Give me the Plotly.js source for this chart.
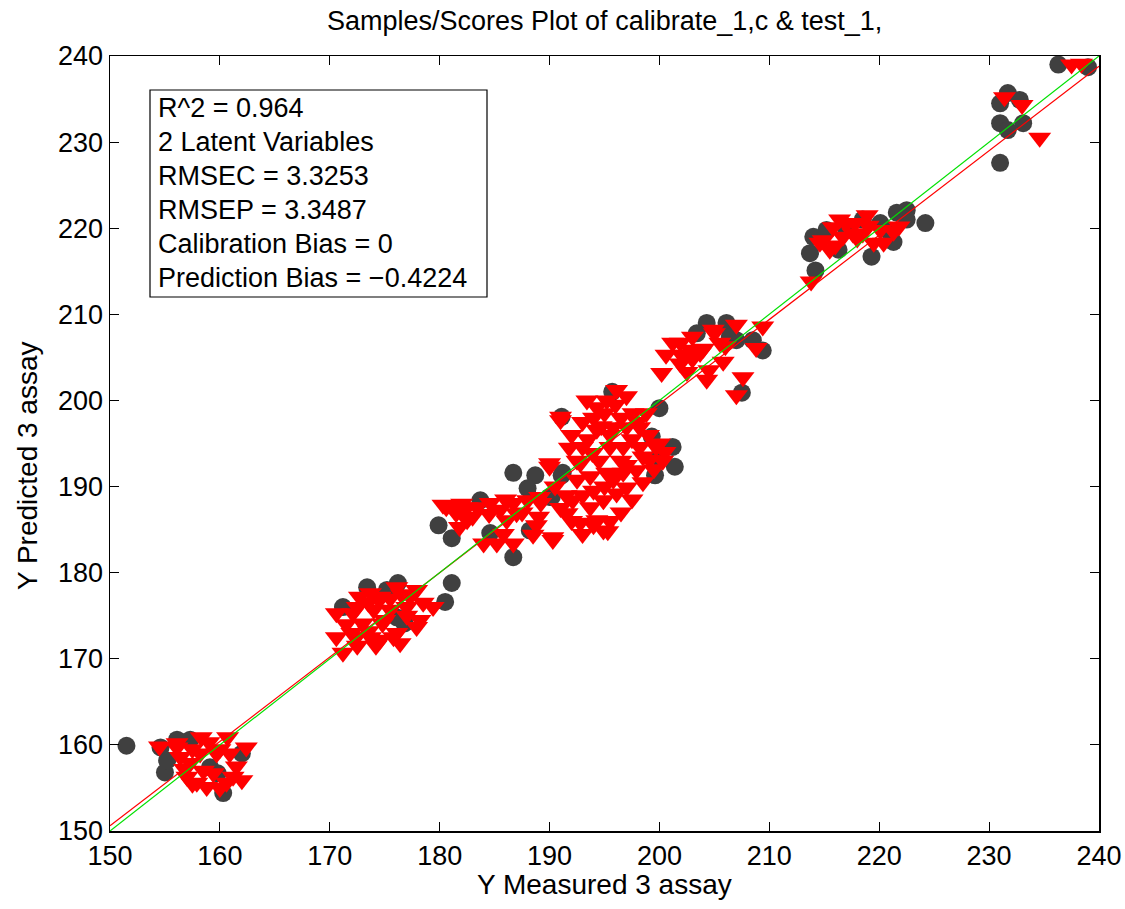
<!DOCTYPE html>
<html><head><meta charset="utf-8">
<script src="https://cdn.plot.ly/plotly-3.0.1.min.js"></script>
<style>html,body{margin:0;padding:0;background:#fff}#chart{width:1125px;height:909px}</style>
</head><body><div id="chart"></div>
<script>
// Calibration samples (dark circles)
const calX = [151.5,156.1,154.6,155.0,155.2,157.3,162.0,160.3,159.1,159.8,
  173.4,176.2,181.1,180.5,171.2,175.2,176.8,176.1,
  179.9,181.1,186.7,188.7,188.0,183.7,190.2,188.2,186.7,184.6,191.2,191.1,
  200.0,201.2,201.4,199.6,199.3,199.9,190.0,191.1,195.7,
  204.3,206.1,203.4,207.0,208.5,209.4,207.5,206.4,
  214.0,213.7,214.2,215.2,216.3,217.0,218.5,219.3,220.1,221.3,221.6,222.5,222.5,224.2,220.7,
  236.3,239.0,231.0,231.7,232.8,231.0,231.7,233.1,231.0];
const calY = [159.9,160.6,159.7,156.8,158.2,160.6,159.0,154.4,157.4,156.7,
  178.3,178.8,178.8,176.6,176.0,178.0,174.1,174.8,
  185.5,184.0,191.6,191.3,189.8,188.4,188.8,184.9,181.8,184.6,191.6,198.1,
  199.1,194.6,192.3,191.3,195.8,193.4,188.8,191.3,201.0,
  209.0,209.0,207.8,207.0,207.0,205.8,200.9,207.4,
  219.0,217.1,215.1,219.8,217.5,219.8,221.0,216.7,220.6,218.4,221.8,222.1,221.0,220.6,219.8,
  239.0,238.7,234.5,235.7,234.9,232.2,231.4,232.2,227.6];
// Test samples (red down-triangles)
const testX = [156.1,158.3,160.7,162.4,156.4,158.2,157.0,158.8,157.9,160.6,162.0,161.2,159.7,160.9,156.1,159.4,157.3,154.5,
  157.5,159.0,160.0,158.5,160.0,161.5,157.5,156.8,
  170.6,170.6,171.2,172.4,173.7,174.6,176.4,176.1,177.9,178.2,179.4,177.3,176.1,174.6,172.7,172.1,174.0,175.5,173.0,174.8,177.0,173.7,177.9,
  171.5,172.5,173.5,174.5,175.5,176.5,177.0,175.0,173.5,172.0,175.8,174.2,178.5,172.5,
  180.6,182.1,181.8,180.3,181.5,182.5,183.4,184.6,185.5,186.7,188.0,189.2,187.0,184.0,185.2,186.7,188.5,190.3,190.0,191.0,182.5,186.1,
  183.0,184.5,186.0,187.5,189.0,188.8,185.8,182.0,181.0,
  200.6,200.2,201.9,203.0,203.7,201.9,202.5,204.3,205.8,204.9,205.5,207.0,209.4,208.8,207.6,207.0,202.8,201.2,
  203.0,204.0,206.0,204.5,202.0,205.0,
  191.0,196.1,193.4,194.3,195.2,197.6,198.2,197.0,195.8,194.3,193.0,192.8,193.9,195.5,196.7,198.2,199.7,199.1,197.9,196.7,195.2,193.7,192.5,190.0,189.1,192.1,193.7,194.9,196.1,197.0,192.8,194.3,194.9,190.3,191.6,195.8,
  192.0,193.0,194.0,195.0,196.0,197.0,196.5,198.0,199.0,200.0,200.5,199.5,198.5,197.5,196.5,195.5,194.0,193.0,192.0,191.0,190.5,191.5,192.5,193.5,194.5,195.5,196.5,197.5,198.5,195.0,196.0,194.0,193.0,197.0,191.8,194.7,198.8,200.3,195.3,
  213.8,214.9,215.5,215.8,216.4,216.7,217.6,218.9,219.5,220.4,221.3,218.5,220.1,214.6,
  217.0,218.0,219.0,216.0,221.8,217.8,
  231.4,233.0,234.6,237.5,238.4];
const testY = [160.2,160.9,160.9,159.7,158.6,159.0,156.3,155.1,155.6,155.6,155.9,156.3,159.0,159.0,159.7,156.7,157.9,159.8,
  159.5,160.3,159.5,157.0,155.0,157.5,155.5,157.2,
  175.3,172.5,170.7,172.5,172.5,172.2,171.8,173.0,173.7,174.5,176.0,177.2,178.3,177.2,177.2,175.3,175.7,175.7,174.1,174.1,176.0,177.6,178.0,
  174.0,176.0,176.5,176.8,177.0,177.5,175.0,174.5,173.2,173.0,172.5,171.5,176.5,171.5,
  187.6,187.3,185.3,187.9,186.9,187.6,187.6,188.1,187.3,188.1,188.4,188.1,186.9,183.4,183.4,183.4,184.4,183.8,192.7,197.7,186.1,186.1,
  186.5,186.8,188.5,187.0,186.5,185.5,184.5,188.0,187.8,
  205.3,203.2,206.7,207.4,205.5,204.3,203.3,202.4,204.5,208.2,206.7,208.8,208.6,206.1,202.7,200.6,205.9,206.7,
  204.8,206.0,206.3,203.5,205.3,207.8,
  198.1,201.2,200.0,199.2,200.0,198.5,196.9,196.9,196.9,196.6,194.6,192.7,193.9,194.6,194.6,194.6,194.6,193.1,191.9,191.6,191.6,191.2,190.8,192.3,188.8,188.4,187.6,188.4,189.2,189.9,185.8,186.1,184.9,184.1,186.9,190.8,
  196.0,197.5,198.0,198.5,199.5,200.5,198.0,197.5,196.0,195.0,194.0,192.0,190.5,188.5,187.0,186.0,185.5,184.5,186.0,187.5,190.0,189.0,193.0,195.5,193.0,196.0,193.0,195.5,193.5,190.0,191.5,189.5,189.0,192.5,194.5,197.0,198.5,193.0,184.8,
  213.8,218.6,217.5,220.1,221.0,219.0,219.4,221.5,218.3,218.3,219.6,219.4,219.8,218.3,
  220.5,218.8,220.3,218.0,220.2,220.6,
  235.2,234.3,230.5,239.0,239.1];
// Fit line (red) and ideal line (green)
const fitX = [150, 240];
const fitY = [150.6, 238.8];
const idealX = [150, 240];
const idealY = [150, 240];
const xTicks = [150,160,170,180,190,200,210,220,230,240];
const yTicks = [150,160,170,180,190,200,210,220,230,240];
const statLines = ["R^2 = 0.964","2 Latent Variables","RMSEC = 3.3253","RMSEP = 3.3487","Calibration Bias = 0","Prediction Bias = \u22120.4224"];
const titleText = 'Samples/Scores Plot of calibrate_1,c & test_1,';
const xTitle = 'Y Measured 3 assay';
const yTitle = 'Y Predicted 3 assay';

const F = '"Liberation Sans", Arial, Helvetica, sans-serif';
const traces = [
  {x: calX, y: calY, type:'scatter', mode:'markers', marker:{symbol:'circle', size:18, color:'#404040'}},
  {x: testX, y: testY, type:'scatter', mode:'markers', marker:{symbol:'triangle-down', size:20, color:'#ff0000'}},
  {x: fitX, y: fitY, type:'scatter', mode:'lines', line:{color:'#ff0000', width:1.2}},
  {x: idealX, y: idealY, type:'scatter', mode:'lines', line:{color:'#00e000', width:1.2}}
];
const PL = 110, PT = 56, PW = 989, PH = 775;
const px2x = p => (p - PL) / PW;
const py2y = p => 1 - (p - PT) / PH;
const lineTop = 108, lineStep = 34;
const annotations = statLines.map((t,i)=>({
  xref:'paper', yref:'paper', x:px2x(156), y:py2y(lineTop+i*lineStep),
  xanchor:'left', yanchor:'middle', text:t, showarrow:false,
  font:{family:F, size:27, color:'#000'}
}));
annotations.push({xref:'paper', yref:'paper', x:0.5, y:py2y(21), xanchor:'center', yanchor:'middle', text:titleText, showarrow:false, font:{family:F, size:27, color:'#000'}});
annotations.push({xref:'paper', yref:'paper', x:0.5, y:py2y(884), xanchor:'center', yanchor:'middle', text:xTitle, showarrow:false, font:{family:F, size:28, color:'#000'}});
annotations.push({xref:'paper', yref:'paper', x:px2x(27), y:py2y(466), xanchor:'center', yanchor:'middle', textangle:-90, text:yTitle, showarrow:false, font:{family:F, size:28, color:'#000'}});
const axisCommon = {range:[150,240], ticks:'inside', ticklen:9, tickwidth:1, tickcolor:'#000',
    showline:true, linecolor:'#000', linewidth:1.5, mirror:'ticks', showgrid:false, zeroline:false,
    tickfont:{family:F, size:27, color:'#000'}};
const layout = {
  width:1125, height:909,
  margin:{l:PL, r:1125-PL-PW, t:PT, b:909-PT-PH},
  paper_bgcolor:'#fff', plot_bgcolor:'#fff',
  showlegend:false,
  xaxis:Object.assign({}, axisCommon, {tickvals:xTicks, ticktext:xTicks.map(String)}),
  yaxis:Object.assign({}, axisCommon, {tickvals:yTicks, ticktext:yTicks.map(String)}),
  shapes:[{type:'rect', xref:'paper', yref:'paper', x0:px2x(150), x1:px2x(487), y0:py2y(297), y1:py2y(90),
    line:{color:'#000', width:1.2}, fillcolor:'#fff', layer:'above'}],
  annotations: annotations
};
Plotly.newPlot('chart', traces, layout, {displayModeBar:false, staticPlot:true});
</script></body></html>
